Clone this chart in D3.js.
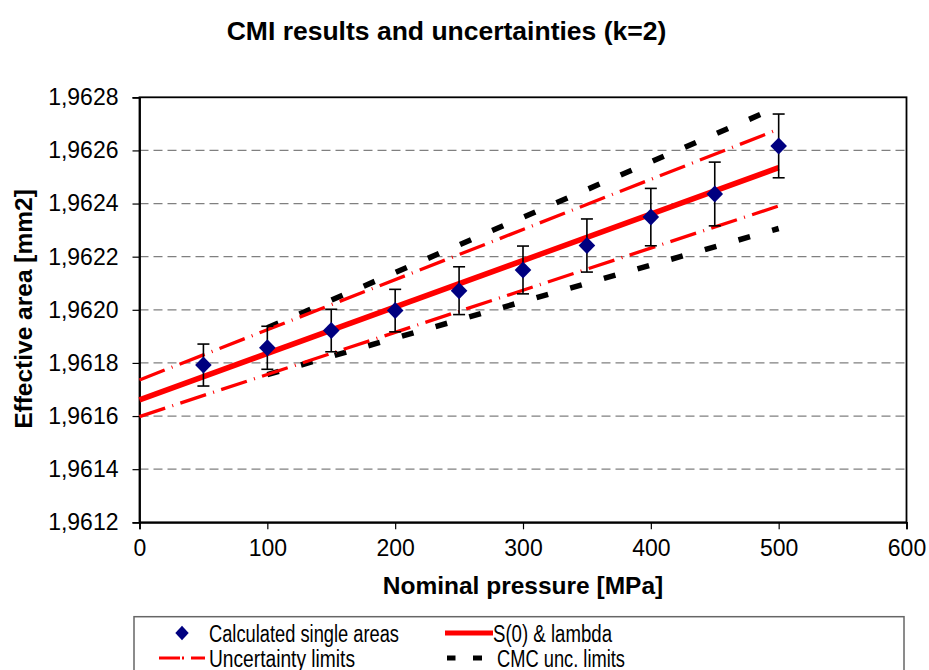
<!DOCTYPE html>
<html>
<head>
<meta charset="utf-8">
<script src="https://cdn.jsdelivr.net/npm/d3@7/dist/d3.min.js"></script>
<style>
  html, body { margin: 0; padding: 0; background: #fff; }
  svg { display: block; font-family: Arial, "Liberation Sans", sans-serif; }
</style>
</head>
<body>
<svg id="chart" width="929" height="670"></svg>
<script>
// ---------- data ----------
const pressures = [50, 100, 150, 200, 250, 300, 350, 400, 450, 500];
const areas = [1.961792, 1.961857, 1.961922, 1.961997, 1.962072, 1.962150, 1.962242, 1.962349, 1.962436, 1.962617];
const uncertainties = [0.000079, 0.000081, 0.000080, 0.000080, 0.000090, 0.000090, 0.000100, 0.000108, 0.000120, 0.000120];

const fitPressures = [0, 500];
const fitAreas = [1.961661, 1.962535];
const uncUpper = [1.961736, 1.962680];
const uncLower = [1.961598, 1.962391];

const cmcPressures = [100, 500];
const cmcUpper = [1.961932, 1.962765];
const cmcLower = [1.961756, 1.962306];

const xTicks = [0, 100, 200, 300, 400, 500, 600];
const yTicks = [1.9612, 1.9614, 1.9616, 1.9618, 1.9620, 1.9622, 1.9624, 1.9626, 1.9628];

const titleText = "CMI results and uncertainties (k=2)";
const xTitle = "Nominal pressure [MPa]";
const yTitle = "Effective area [mm2]";
const legendLabels = ["Calculated single areas", "S(0) & lambda", "Uncertainty limits", "CMC unc. limits"];

// ---------- layout ----------
const svg = d3.select("#chart");
const L = 139.5, R = 906.5, T = 97.3, B = 522.3;
const x = d3.scaleLinear().domain([0, 600]).range([L, R]);
const y = d3.scaleLinear().domain([1.9612, 1.9628]).range([B, T]);
const fmt = v => v.toFixed(4).replace(".", ",");

// title
svg.append("text").attr("x", 446.5).attr("y", 40).attr("text-anchor", "middle")
  .attr("font-size", 26.5).attr("font-weight", "bold").text(titleText);

// gridlines
svg.append("g").selectAll("line").data(yTicks.slice(1, -1)).join("line")
  .attr("x1", L).attr("x2", R).attr("y1", d => y(d)).attr("y2", d => y(d))
  .attr("stroke", "#808080").attr("stroke-width", 1.2).attr("stroke-dasharray", "9,5");

// frame
svg.append("rect").attr("x", L).attr("y", T).attr("width", R - L).attr("height", B - T)
  .attr("fill", "none").attr("stroke", "#000").attr("stroke-width", 1.8);

// axes
const xAxis = d3.axisBottom(x).tickValues(xTicks).tickSize(7).tickPadding(10).tickFormat(d3.format("d"));
const gx = svg.append("g").attr("transform", `translate(0,${B})`).call(xAxis);
gx.select(".domain").attr("stroke", "#000").attr("stroke-width", 1.8);
gx.selectAll(".tick line").attr("stroke", "#000").attr("stroke-width", 1.2);
gx.selectAll("text").attr("font-size", 23).attr("font-family", "Arial, 'Liberation Sans', sans-serif").attr("fill", "#000");

const yAxis = d3.axisLeft(y).tickValues(yTicks).tickSize(7).tickPadding(14).tickFormat(fmt);
const gy = svg.append("g").attr("transform", `translate(${L},0)`).call(yAxis);
gy.select(".domain").attr("stroke", "#000").attr("stroke-width", 1.8);
gy.selectAll(".tick line").attr("stroke", "#000").attr("stroke-width", 1.2);
gy.selectAll("text").attr("font-size", 23).attr("font-family", "Arial, 'Liberation Sans', sans-serif").attr("fill", "#000");

// axis titles
svg.append("text").attr("x", 523).attr("y", 594).attr("text-anchor", "middle")
  .attr("font-size", 24.5).attr("font-weight", "bold").text(xTitle);
svg.append("text").attr("transform", "translate(32,309) rotate(-90)").attr("text-anchor", "middle")
  .attr("font-size", 24.5).attr("font-weight", "bold").text(yTitle);

// lines
const line = d3.line().x(d => x(d[0])).y(d => y(d[1]));
const plot = svg.append("g");
function drawLine(ps, vs, color, w, dash) {
  plot.append("path").datum(ps.map((p, i) => [p, vs[i]])).attr("d", line)
    .attr("fill", "none").attr("stroke", color).attr("stroke-width", w)
    .attr("stroke-dasharray", dash);
}
drawLine(cmcPressures, cmcUpper, "#000", 5.5, "12,23");
drawLine(cmcPressures, cmcLower, "#000", 5.5, "12,23");
drawLine(fitPressures, uncUpper, "#ff0000", 3.3, "27,7.5,1,7.5");
drawLine(fitPressures, uncLower, "#ff0000", 3.3, "27,7.5,1,7.5");
drawLine(fitPressures, fitAreas, "#ff0000", 5.5, null);

// error bars
const eb = plot.append("g").attr("stroke", "#000").attr("stroke-width", 1.6);
pressures.forEach((p, i) => {
  const cx = x(p), y1 = y(areas[i] + uncertainties[i]), y2 = y(areas[i] - uncertainties[i]);
  eb.append("line").attr("x1", cx).attr("x2", cx).attr("y1", y1).attr("y2", y2);
  eb.append("line").attr("x1", cx - 6).attr("x2", cx + 6).attr("y1", y1).attr("y2", y1);
  eb.append("line").attr("x1", cx - 6).attr("x2", cx + 6).attr("y1", y2).attr("y2", y2);
});

// diamonds
const diamond = (cx, cy, w, h) => `M${cx},${cy - h}L${cx + w},${cy}L${cx},${cy + h}L${cx - w},${cy}Z`;
plot.append("g").selectAll("path").data(pressures).join("path")
  .attr("d", (p, i) => diamond(x(p), y(areas[i]), 8.3, 8.5))
  .attr("fill", "#000080");

// legend
const lg = svg.append("g");
lg.append("rect").attr("x", 134).attr("y", 616.7).attr("width", 770).attr("height", 80)
  .attr("fill", "#fff").attr("stroke", "#666").attr("stroke-width", 1.5);
const r1 = 633, r2 = 658;
lg.append("path").attr("d", diamond(182, r1, 6.7, 7.2)).attr("fill", "#000080");
lg.append("line").attr("x1", 445).attr("x2", 493).attr("y1", r1).attr("y2", r1)
  .attr("stroke", "#ff0000").attr("stroke-width", 5);
lg.append("line").attr("x1", 159).attr("x2", 205).attr("y1", r2).attr("y2", r2)
  .attr("stroke", "#ff0000").attr("stroke-width", 3).attr("stroke-dasharray", "21,2,2,7,14");
lg.append("line").attr("x1", 447).attr("x2", 482).attr("y1", r2).attr("y2", r2)
  .attr("stroke", "#000").attr("stroke-width", 5).attr("stroke-dasharray", "8.5,17.5,9");
const legendPos = [[209, r1, 190], [493, r1, 119], [209, r2, 146], [497, r2, 128]];
legendLabels.forEach((t, i) => {
  lg.append("text").attr("x", legendPos[i][0]).attr("y", legendPos[i][1] + 8.5)
    .attr("font-size", 23.5).attr("textLength", legendPos[i][2]).attr("lengthAdjust", "spacingAndGlyphs")
    .text(t);
});
</script>
</body>
</html>
